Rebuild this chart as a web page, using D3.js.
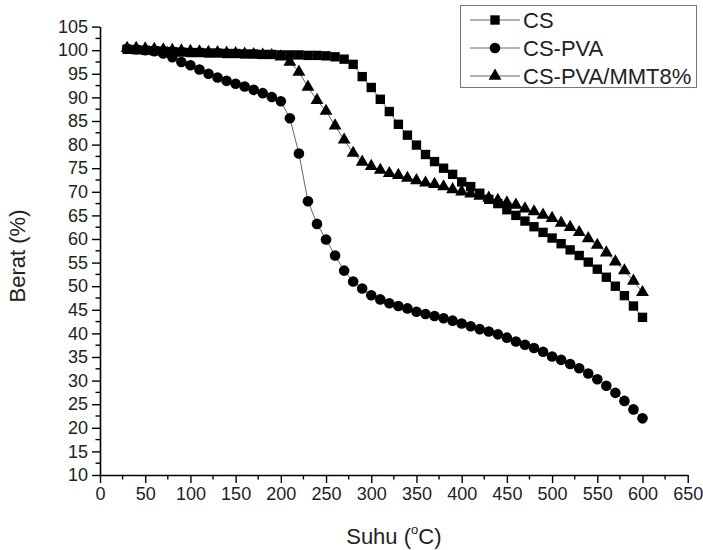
<!DOCTYPE html>
<html>
<head>
<meta charset="utf-8">
<script src="https://cdn.jsdelivr.net/npm/d3@7"></script>
<style>
  html, body { margin: 0; padding: 0; background: #fff; }
  svg { display: block; font-family: "Liberation Sans", Arial, sans-serif; }
</style>
</head>
<body>
<svg id="chart" width="703" height="550"></svg>
<script>
// ---- data ----
const temperature = [30,40,50,60,70,80,90,100,110,120,130,140,150,160,170,180,190,200,210,220,230,240,250,260,270,280,290,300,310,320,330,340,350,360,370,380,390,400,410,420,430,440,450,460,470,480,490,500,510,520,530,540,550,560,570,580,590,600];

const seriesNames = ["CS", "CS-PVA", "CS-PVA/MMT8%"];

const csValues = [100.2,100.1,100.0,99.9,99.8,99.7,99.6,99.5,99.5,99.4,99.4,99.3,99.3,99.2,99.2,99.1,99.1,99.0,99.0,99.0,98.9,98.9,98.8,98.6,98.1,97.0,94.4,92.1,89.6,87.0,84.3,82.0,79.9,77.9,76.4,75.0,73.7,72.1,71.1,69.7,68.4,67.5,66.2,65.0,63.8,62.6,61.4,60.2,59.0,57.7,56.5,55.1,53.6,51.9,50.0,48.0,45.8,43.4];

const csPvaValues = [100.3,100.2,100.0,99.8,99.3,98.5,97.5,96.8,95.9,95.0,94.2,93.5,92.9,92.3,91.6,90.9,90.1,89.2,85.6,78.1,68.0,63.2,59.9,56.5,53.3,51.0,49.5,48.1,47.2,46.4,45.8,45.3,44.6,44.1,43.7,43.2,42.7,42.1,41.5,40.9,40.4,39.8,39.1,38.3,37.6,36.9,36.1,35.1,34.4,33.5,32.6,31.5,30.3,28.9,27.4,25.7,23.9,22.0];

const csPvaMmtValues = [100.4,100.4,100.3,100.2,100.1,100.0,99.9,99.8,99.7,99.6,99.5,99.4,99.3,99.2,99.1,99.0,98.9,98.6,97.5,95.4,92.2,89.4,87.1,84.0,81.0,78.2,76.3,75.4,74.6,73.9,73.5,72.9,72.4,71.9,71.6,71.1,70.5,70.0,69.6,69.1,68.7,68.2,67.7,67.2,66.4,65.8,65.1,64.4,63.4,62.5,61.4,60.1,58.7,57.1,55.2,53.3,51.1,48.7];

const xTickValues = [0,50,100,150,200,250,300,350,400,450,500,550,600,650];
const yTickValues = [10,15,20,25,30,35,40,45,50,55,60,65,70,75,80,85,90,95,100,105];

const xTitle = "Suhu (";
const yTitle = "Berat (%)";

// ---- layout ----
const svg = d3.select("#chart");
const margin = {left: 100, right: 15.3, top: 26.6, bottom: 75};
const W = 703, H = 550;
const x = d3.scaleLinear().domain([0, 650]).range([margin.left, W - margin.right]);
const y = d3.scaleLinear().domain([10, 105]).range([H - margin.bottom, margin.top]);

const symbols = [d3.symbolSquare, d3.symbolCircle, d3.symbolTriangle];
const symSizes = [88, 88, 72];
const allValues = [csValues, csPvaValues, csPvaMmtValues];

// minor ticks
const xMinor = d3.range(0, 651, 25).filter(v => v % 50 !== 0);
const yMinor = d3.range(12.5, 105, 5);

const fontTick = 18;

// X axis
const gx = svg.append("g").attr("transform", `translate(0,${y(10)})`);
gx.call(d3.axisBottom(x).tickValues(xTickValues).tickSize(8).tickSizeOuter(0).tickPadding(4))
  .call(g => g.select(".domain").attr("stroke", "#000").attr("stroke-width", 1.6))
  .call(g => g.selectAll(".tick line").attr("stroke", "#000").attr("stroke-width", 1.4))
  .call(g => g.selectAll(".tick text").attr("font-size", fontTick).attr("fill", "#222").attr("font-family", "Liberation Sans, Arial, sans-serif"));
gx.selectAll(".minor").data(xMinor).enter().append("line")
  .attr("x1", d => x(d)).attr("x2", d => x(d)).attr("y1", 0).attr("y2", 4.5)
  .attr("stroke", "#000").attr("stroke-width", 1.4);

// Y axis
const gy = svg.append("g").attr("transform", `translate(${x(0)},0)`);
gy.call(d3.axisLeft(y).tickValues(yTickValues).tickSize(8).tickSizeOuter(0).tickPadding(4))
  .call(g => g.select(".domain").attr("stroke", "#000").attr("stroke-width", 1.6))
  .call(g => g.selectAll(".tick line").attr("stroke", "#000").attr("stroke-width", 1.4))
  .call(g => g.selectAll(".tick text").attr("font-size", fontTick).attr("fill", "#222").attr("font-family", "Liberation Sans, Arial, sans-serif"));
gy.selectAll(".minor").data(yMinor).enter().append("line")
  .attr("x1", 0).attr("x2", -4.5).attr("y1", d => y(d)).attr("y2", d => y(d))
  .attr("stroke", "#000").attr("stroke-width", 1.4);

// Axis titles
const xt = svg.append("text")
  .attr("x", (x(0) + x(650)) / 2).attr("y", 544)
  .attr("text-anchor", "middle").attr("font-size", 22).attr("fill", "#222");
xt.append("tspan").text(xTitle);
xt.append("tspan").attr("font-size", 13).attr("dy", -10).text("o");
xt.append("tspan").attr("dy", 10).text("C)");

svg.append("text")
  .attr("transform", `translate(25,${256}) rotate(-90)`)
  .attr("text-anchor", "middle").attr("font-size", 22).attr("fill", "#222")
  .text(yTitle);

// Series
const line = d3.line().x((d, i) => x(temperature[i])).y(d => y(d));
allValues.forEach((vals, si) => {
  svg.append("path").datum(vals)
    .attr("d", line).attr("fill", "none")
    .attr("stroke", "#666").attr("stroke-width", 1);
});
allValues.forEach((vals, si) => {
  svg.append("g").selectAll("path").data(vals).enter().append("path")
    .attr("transform", (d, i) => `translate(${x(temperature[i])},${y(d)})`)
    .attr("d", d3.symbol().type(symbols[si]).size(symSizes[si]))
    .attr("fill", "#000");
});

// Legend
const lg = svg.append("g");
lg.append("rect").attr("x", 460.5).attr("y", 5.5).attr("width", 236).attr("height", 82)
  .attr("fill", "#fff").attr("stroke", "#777").attr("stroke-width", 1);
seriesNames.forEach((name, i) => {
  const cy = 20 + i * 28;
  lg.append("line").attr("x1", 470).attr("x2", 520).attr("y1", cy).attr("y2", cy)
    .attr("stroke", "#666").attr("stroke-width", 1);
  lg.append("path").attr("transform", `translate(495,${cy})`)
    .attr("d", d3.symbol().type(symbols[i]).size(symSizes[i])).attr("fill", "#000");
  lg.append("text").attr("x", 523).attr("y", cy).attr("dy", "0.36em")
    .attr("font-size", 22).attr("fill", "#222").text(name);
});
</script>
</body>
</html>
